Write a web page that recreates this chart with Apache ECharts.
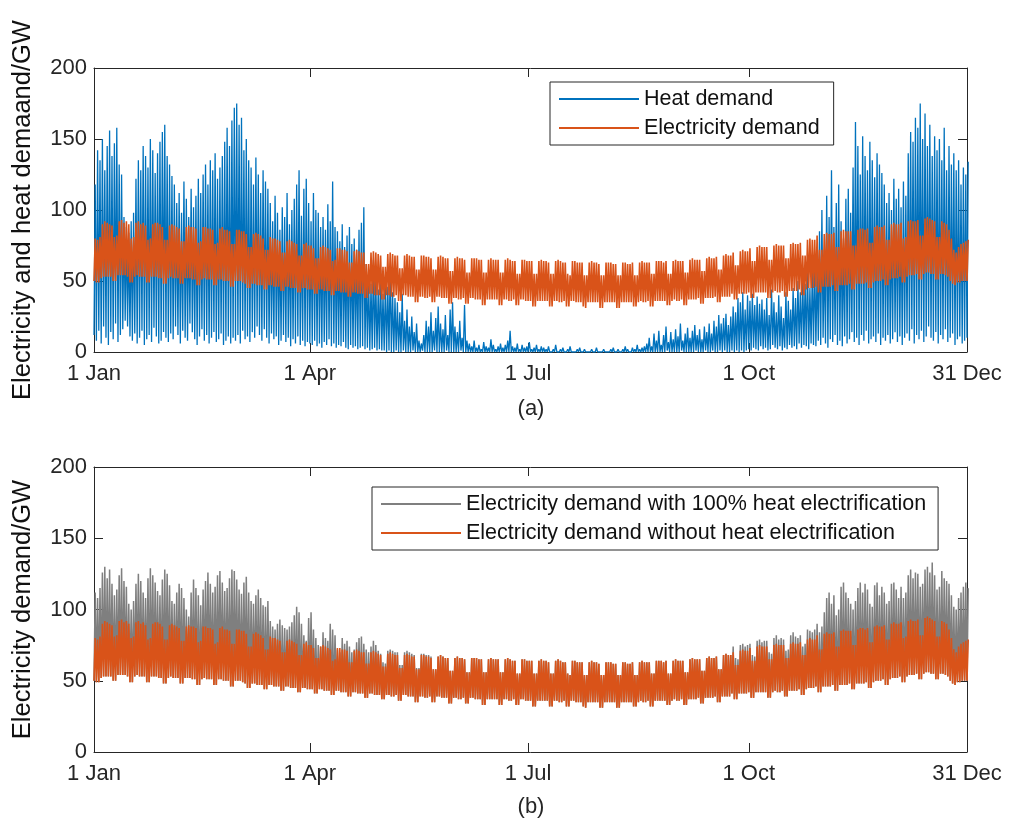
<!doctype html>
<html>

<head>
	<meta charset="utf-8">
	<title>Electricity and heat demand</title>
	<script src="https://cdn.jsdelivr.net/npm/echarts@6/dist/echarts.min.js"></script>
</head>
<style>
	html,
	body {
		margin: 0;
		padding: 0;
		background: #fff;
	}

	#main {
		width: 1018px;
		height: 825px;
	}
</style>

<body>
	<div id="main"></div>

	<script>
		// x ticks (day of year, 0 = 1 Jan)
		var tickDays = [0, 90, 181, 273, 364];
		var tickNames = ['1 Jan', '1 Apr', '1 Jul', '1 Oct', '31 Dec'];

		// electricity demand, daily peak / daily trough (GW), one row per week (Fri..Thu)
		var elecHi = [
			80, 79, 81, 90, 92, 91, 90,
			89, 81, 82, 92, 93, 91, 92,
			90, 80, 81, 91, 92, 90, 91,
			89, 79, 80, 90, 91, 91, 90,
			88, 79, 79, 89, 90, 89, 88,
			87, 78, 78, 88, 89, 88, 88,
			87, 77, 78, 88, 88, 87, 87,
			86, 76, 77, 87, 88, 86, 86,
			85, 76, 76, 86, 86, 85, 85,
			83, 74, 74, 83, 84, 83, 82,
			80, 72, 72, 81, 80, 80, 79,
			78, 70, 70, 78, 79, 78, 77,
			76, 68, 68, 76, 77, 75, 75,
			73, 66, 66, 74, 75, 74, 73,
			72, 64, 65, 73, 73, 72, 72,
			71, 63, 63, 71, 72, 71, 70,
			70, 62, 62, 70, 71, 70, 69,
			68, 60, 60, 69, 70, 69, 68,
			68, 59, 59, 68, 69, 68, 67,
			67, 58, 58, 68, 68, 67, 67,
			66, 58, 58, 67, 68, 67, 66,
			66, 57, 57, 66, 67, 66, 66,
			65, 56, 56, 66, 66, 66, 65,
			65, 56, 56, 65, 66, 65, 65,
			65, 56, 56, 65, 66, 65, 64,
			64, 55, 55, 65, 65, 64, 64,
			64, 55, 55, 64, 65, 64, 64,
			63, 55, 55, 64, 65, 64, 63,
			63, 55, 54, 64, 64, 63, 63,
			63, 54, 54, 63, 64, 63, 63,
			62, 54, 54, 63, 63, 63, 62,
			62, 54, 54, 63, 63, 62, 62,
			63, 54, 54, 63, 64, 63, 63,
			63, 55, 55, 64, 64, 64, 63,
			64, 55, 55, 64, 65, 64, 64,
			64, 56, 56, 65, 66, 65, 65,
			65, 57, 57, 66, 67, 66, 66,
			67, 58, 58, 68, 69, 68, 68,
			70, 61, 61, 71, 72, 71, 71,
			73, 64, 64, 74, 75, 74, 74,
			74, 65, 65, 75, 76, 75, 75,
			75, 66, 66, 76, 77, 76, 76,
			77, 68, 68, 79, 80, 79, 79,
			82, 72, 72, 83, 84, 83, 83,
			84, 74, 74, 85, 86, 85, 85,
			85, 75, 75, 86, 87, 87, 86,
			87, 77, 77, 88, 89, 88, 88,
			89, 79, 79, 90, 91, 90, 90,
			91, 80, 81, 92, 93, 92, 92,
			93, 82, 82, 94, 95, 94, 93,
			92, 81, 81, 92, 91, 90, 86,
			80, 72, 70, 74, 76, 77, 78,
			79
		];
		var elecLo = [
			50, 49, 49, 52, 53, 53, 53,
			53, 50, 50, 54, 54, 54, 54,
			53, 49, 49, 53, 54, 53, 53,
			53, 49, 49, 53, 53, 53, 52,
			52, 48, 48, 52, 53, 52, 52,
			52, 48, 48, 52, 52, 52, 51,
			51, 47, 47, 51, 52, 51, 51,
			51, 47, 47, 51, 51, 50, 50,
			50, 46, 46, 50, 50, 50, 49,
			48, 45, 45, 48, 48, 47, 47,
			47, 44, 44, 47, 47, 46, 46,
			46, 43, 43, 46, 46, 45, 45,
			45, 42, 42, 45, 45, 44, 44,
			44, 41, 41, 44, 44, 43, 43,
			43, 40, 40, 43, 43, 42, 42,
			42, 39, 39, 42, 42, 41, 41,
			41, 38, 38, 41, 41, 40, 40,
			40, 37, 37, 40, 40, 39, 39,
			40, 36, 36, 40, 40, 39, 39,
			39, 35, 35, 39, 39, 38, 38,
			39, 35, 35, 39, 39, 38, 38,
			38, 34, 34, 38, 38, 37, 37,
			38, 34, 34, 38, 38, 37, 37,
			37, 33, 33, 37, 37, 37, 37,
			37, 33, 33, 37, 37, 36, 36,
			37, 33, 33, 37, 37, 36, 36,
			36, 32, 32, 36, 36, 36, 36,
			36, 32, 32, 36, 36, 35, 35,
			36, 32, 32, 36, 36, 35, 35,
			35, 32, 31, 35, 35, 35, 35,
			35, 31, 31, 35, 35, 35, 35,
			35, 31, 31, 35, 35, 35, 35,
			35, 32, 32, 35, 36, 35, 35,
			36, 32, 32, 36, 36, 36, 36,
			36, 33, 33, 36, 37, 36, 36,
			37, 33, 33, 37, 37, 37, 37,
			38, 34, 34, 38, 38, 38, 38,
			39, 35, 35, 39, 39, 39, 39,
			41, 37, 37, 41, 41, 41, 41,
			42, 38, 38, 42, 42, 42, 42,
			42, 38, 38, 42, 43, 42, 42,
			43, 39, 39, 43, 43, 43, 43,
			44, 40, 40, 44, 45, 45, 45,
			46, 42, 42, 46, 46, 46, 46,
			47, 43, 43, 47, 47, 47, 47,
			48, 44, 44, 48, 48, 48, 48,
			49, 45, 45, 49, 50, 50, 50,
			51, 47, 47, 51, 52, 52, 52,
			53, 49, 49, 53, 54, 54, 54,
			55, 51, 51, 55, 56, 56, 55,
			55, 51, 51, 55, 55, 54, 53,
			50, 48, 47, 49, 49, 50, 50,
			50
		];

		// heat demand, daily peak / daily trough (GW)
		var heatHi = [
			118, 142, 135, 150, 128, 145, 156, 138, 147, 158, 132, 125,
			95, 88, 84, 92, 98,
			122, 135, 128, 145, 138, 130, 150, 142, 126, 140, 148, 155, 160, 138, 132, 124,
			118, 105, 112, 98, 120, 108, 95, 115, 102, 110, 122,
			112, 125, 132, 118, 135, 128, 140, 122, 130, 138, 148, 158, 145, 163, 172, 175, 160, 165, 142, 150, 135,
			130, 118, 137, 125, 112, 128, 120, 115,
			105, 92, 110, 98, 86, 102, 95, 112, 90, 100,
			108, 118, 128, 96, 115, 122, 105, 92, 112, 100, 98, 88,
			95, 86, 104, 92, 120, 88,
			85, 78, 90, 74, 82, 88, 76, 80, 72, 86, 91,
			102,
			62, 55, 48, 65, 52, 44, 58, 41, 50, 46, 60, 42, 38,
			35, 28, 41, 22, 30, 18, 25, 14, 20,
			8, 6, 12, 22, 18, 28, 15, 24, 32, 20, 16, 26, 12, 30, 35, 18, 14, 22, 10, 33, 8,
			6, 4, 8, 3, 5, 2, 7, 4, 3, 9, 5, 2, 4, 6, 3, 5, 8, 15, 4, 3, 6, 2, 5, 3, 4, 7, 2, 3, 5, 2, 4,
			3, 2, 4, 1, 2, 5, 1, 2, 3, 1, 2, 4, 1, 1, 2, 3, 1, 2, 1, 1, 2, 1,
			3, 1, 1, 2, 1, 1, 2, 3, 1, 2, 1, 2, 4, 2, 1, 3, 2, 5, 2, 3, 4,
			6, 10, 4, 13, 8, 15, 5, 12, 18, 7, 14, 9, 16, 11, 20, 8, 13, 17, 10, 15, 19, 12, 16, 9, 18, 14, 20, 13,
			22, 18, 26, 20, 24, 27, 19, 25,
			32, 28, 38, 35, 42, 30, 40, 36, 41, 33, 39, 34, 37,
			30, 38, 26, 44, 35, 28, 40, 32, 24, 42, 36, 30, 45, 38, 50, 42, 55, 48, 62, 45, 58, 65,
			60, 85, 100, 72, 110, 95, 128, 88, 105, 118, 92, 80, 108, 115, 98,
			130, 162, 145, 125, 152, 138, 128, 148, 135, 123, 140, 132, 126,
			118, 105, 112, 100, 122, 108, 115, 102, 120, 110,
			140, 155, 148, 165, 158, 175, 150, 168, 145, 160, 138, 152, 142,
			150, 135, 158, 128, 145, 132, 140,
			128, 135, 118, 130, 125, 134
		];
		var heatLo = [
			12, 8, 15, 6, 18, 10, 5, 14, 9, 20, 7, 12, 16, 22, 18, 11, 8, 13, 6, 10, 15, 5, 9, 12, 7, 17, 11, 6, 8, 14, 10,
			7, 13, 9, 18, 12, 6, 15, 10, 8, 20, 14, 9, 5, 11, 16, 8, 12, 6, 10, 14, 7, 9, 13, 5, 8, 11, 6, 10,
			8, 12, 6, 15, 9, 11, 7, 14, 10, 18, 12, 8, 16, 10, 6, 13, 9, 11, 5, 8, 12, 7, 10, 4, 9, 6, 11, 5, 8, 4, 7, 6,
			5, 8, 4, 6, 3, 7, 5, 9, 4, 6, 3, 5, 4, 7, 3, 2, 5, 3, 4, 2, 3, 4, 2, 3, 1, 2, 3, 1, 2, 1,
			1, 0, 1, 0, 0, 1, 0, 0, 1, 0, 0, 0, 1, 0, 0, 0, 1, 0, 0,
			0, 0, 1, 0, 0, 0, 0, 1, 0, 0, 0, 0, 0, 1, 0, 0, 0, 0, 0,
			0, 0, 0, 0, 0, 0, 0, 0, 0, 0, 0, 0, 0, 0, 0, 0, 0, 0, 0,
			0, 0, 0, 0, 0, 0, 0, 0, 0, 0, 0, 0, 0, 0, 0, 0, 0, 0, 0,
			0, 0, 0, 0, 0, 0, 0, 0, 0, 0, 0, 0, 0, 0, 0, 0, 0, 0, 0,
			0, 0, 0, 0, 0, 0, 0, 0, 0, 0, 0, 0, 0, 0, 0, 0, 0, 0, 0,
			0, 0, 0, 0, 1, 0, 0, 0, 0, 0, 1, 0, 0, 0, 0, 0, 1, 0, 0,
			0, 1, 0, 0, 1, 0, 0, 1, 0, 1, 0, 0, 1, 0, 1, 0, 1, 0, 1,
			2, 1, 3, 2, 1, 4, 2, 3, 1, 2, 5, 3, 2, 4, 1, 3, 2, 5, 3, 4, 2, 6, 3, 5, 4, 2, 6, 5,
			4, 8, 5, 10, 6, 3, 9, 7, 12, 5, 8, 4, 11, 6, 9, 14, 7, 10, 5, 12, 8, 15, 6, 9, 11, 7, 13, 5, 10, 8, 12, 6,
			9, 14, 7, 11, 5, 10, 13, 8, 16, 6, 12, 9, 15, 7, 11, 18, 10, 8, 14, 6, 12, 9, 16, 7, 10, 13, 5, 9, 11, 6, 8, 10
		];

		// electricity demand with 100% heat electrification, daily peak (GW)
		var elecHeatHi = [
			112, 108, 115, 126, 130, 122, 128, 118, 110, 114, 124, 129, 120, 116,
			104, 100, 106,
			118, 125, 120, 112, 108, 122, 129, 124, 119, 113, 110, 121, 128, 125, 117, 106, 104, 112, 118, 115,
			108, 100, 95, 112, 121, 115, 110, 103,
			114, 120, 126, 118, 112, 116, 124, 127, 119, 113, 115, 122, 128, 127, 121, 114, 111, 119, 123,
			112, 106, 104, 110, 114, 108, 103, 102, 106,
			92, 88, 86, 90, 93, 89, 87, 86, 88, 91,
			96, 102, 98, 90, 82, 78, 94, 98, 86, 80, 75, 74,
			84, 80, 78, 90, 86, 82, 72, 70, 80, 76,
			78, 74, 70, 72, 77, 80, 81, 76, 72, 70, 74, 78, 75, 71, 69,
			63, 62, 71, 72, 71, 70, 70, 61, 61, 70, 71, 70, 69, 68, 59, 59, 69, 69, 68, 68, 67,
			58, 58, 67, 68, 67, 66,
			66, 57, 57, 66, 67, 66, 66,
			65, 56, 56, 66, 66, 66, 65,
			65, 56, 56, 65, 66, 65, 65,
			65, 56, 56, 65, 66, 65, 64,
			64, 55, 55, 65, 65, 64, 64,
			64, 55, 55, 64, 65, 64, 64,
			63, 55, 55, 64, 65, 64, 63,
			63, 55, 54, 64, 64, 63, 63,
			63, 54, 54, 63, 64, 63, 63,
			62, 54, 54, 63, 63, 63, 62,
			62, 54, 54, 63, 63, 62, 62,
			63, 54, 54, 63, 64, 63, 63,
			63, 55, 55, 64, 64, 64, 63,
			64, 55, 55, 64, 65, 64, 64,
			64, 56, 56, 65, 66, 65, 65,
			65, 57, 57, 66, 67, 66, 66,
			67, 58, 58, 68, 69, 68, 68,
			74, 66, 65, 75, 76, 74, 75,
			76, 68, 67, 78, 79, 77,
			78, 78, 70, 69, 80, 82, 79, 80, 79, 71, 72, 82, 84, 81, 80,
			82, 74, 76, 86, 85, 84, 86, 90, 84, 88, 98,
			108, 112, 104, 110, 96, 100, 116, 119, 112, 108, 104,
			100, 106, 115, 119, 112, 118, 114, 104, 102, 117, 119, 110, 116,
			112, 104, 106, 118, 119, 114, 108, 116, 108, 112,
			124, 128, 122, 126, 125, 116, 118, 128, 130, 126, 133, 124, 114, 116, 127, 122, 120, 118,
			110, 102, 100, 108, 112, 116, 119, 115
		];

		var font = "'Liberation Sans', Arial, sans-serif";
		var axisCol = '#262626';

		// two points per day: night trough, then daily peak
		function daily(lo, hi) {
			var out = [];
			for (var d = 0; d < hi.length; d++) {
				out.push([d, lo[d]]);
				out.push([d + 0.5, hi[d]]);
			}
			return out;
		}

		function xAxisFor(grid, top) {
			return {
				type: 'value',
				gridIndex: grid,
				position: top ? 'top' : 'bottom',
				min: 0,
				max: 364,
				axisLine: { onZero: false, lineStyle: { color: axisCol, width: 1 } },
				axisTick: { inside: true, length: 9, customValues: tickDays, lineStyle: { color: axisCol } },
				axisLabel: {
					show: !top,
					customValues: tickDays,
					margin: 11,
					fontSize: 22,
					fontFamily: font,
					color: axisCol,
					formatter: function (v) { return tickNames[tickDays.indexOf(v)]; }
				},
				splitLine: { show: false }
			};
		}

		function yAxisFor(grid, right, name) {
			return {
				type: 'value',
				gridIndex: grid,
				position: right ? 'right' : 'left',
				min: 0,
				max: 200,
				interval: 50,
				name: right ? '' : name,
				nameLocation: 'middle',
				nameGap: 58,
				nameTextStyle: { fontSize: 25.5, fontFamily: font, color: '#111' },
				axisLine: { show: true, onZero: false, lineStyle: { color: axisCol, width: 1 } },
				axisTick: { show: true, inside: true, length: 9, lineStyle: { color: axisCol } },
				axisLabel: { show: !right, margin: 7, fontSize: 22, fontFamily: font, color: axisCol },
				splitLine: { show: false }
			};
		}

		function legendFor(names, left, top, padRight) {
			return {
				orient: 'vertical',
				left: left,
				top: top,
				data: names,
				icon: 'rect',
				itemWidth: 80,
				itemHeight: 2,
				itemGap: 7,
				padding: [6, padRight, 6, 9],
				selectedMode: false,
				backgroundColor: '#fff',
				borderColor: axisCol,
				borderWidth: 1,
				borderRadius: 0,
				textStyle: { fontSize: 21.5, fontFamily: font, color: '#111' }
			};
		}

		function lineSeries(name, data, color, width, xi, yi) {
			return {
				name: name,
				type: 'line',
				xAxisIndex: xi,
				yAxisIndex: yi,
				data: data,
				symbol: 'none',
				showSymbol: false,
				sampling: null,
				lineStyle: { color: color, width: width },
				itemStyle: { color: color },
				emphasis: { disabled: true }
			};
		}

		var blue = '#0072BD';
		var orange = '#D95319';
		var grey = '#7F7F7F';

		var chart = echarts.init(document.getElementById('main'), null, { renderer: 'canvas' });
		chart.setOption({
			animation: false,
			backgroundColor: '#fff',
			grid: [
				{ left: 94, top: 68, width: 873, height: 284 },
				{ left: 94, top: 467, width: 873, height: 285 }
			],
			// x axes: 0/1 bottom/top of panel (a), 2/3 of panel (b); same for y left/right
			xAxis: [xAxisFor(0, false), xAxisFor(0, true), xAxisFor(1, false), xAxisFor(1, true)],
			yAxis: [
				yAxisFor(0, false, 'Electricity and heat demaand/GW'),
				yAxisFor(0, true),
				yAxisFor(1, false, 'Electricity demand/GW'),
				yAxisFor(1, true)
			],
			legend: [
				legendFor(['Heat demand', 'Electricity demand'], 550, 82, 14),
				legendFor(['Electricity demand with 100% heat electrification',
					'Electricity demand without heat electrification'], 372, 487, 12)
			],
			graphic: [
				{ type: 'text', style: { text: '(a)', x: 531, y: 409, align: 'center', verticalAlign: 'middle', fontSize: 22, fontFamily: font, fill: axisCol } },
				{ type: 'text', style: { text: '(b)', x: 531, y: 807, align: 'center', verticalAlign: 'middle', fontSize: 22, fontFamily: font, fill: axisCol } }
			],
			series: [
				lineSeries('Heat demand', daily(heatLo, heatHi), blue, 1.3, 0, 0),
				lineSeries('Electricity demand', daily(elecLo, elecHi), orange, 1.6, 0, 0),
				lineSeries('Electricity demand with 100% heat electrification', daily(elecLo, elecHeatHi), grey, 1.5, 2, 2),
				lineSeries('Electricity demand without heat electrification', daily(elecLo, elecHi), orange, 1.6, 2, 2)
			]
		});
	</script>
</body>

</html>
